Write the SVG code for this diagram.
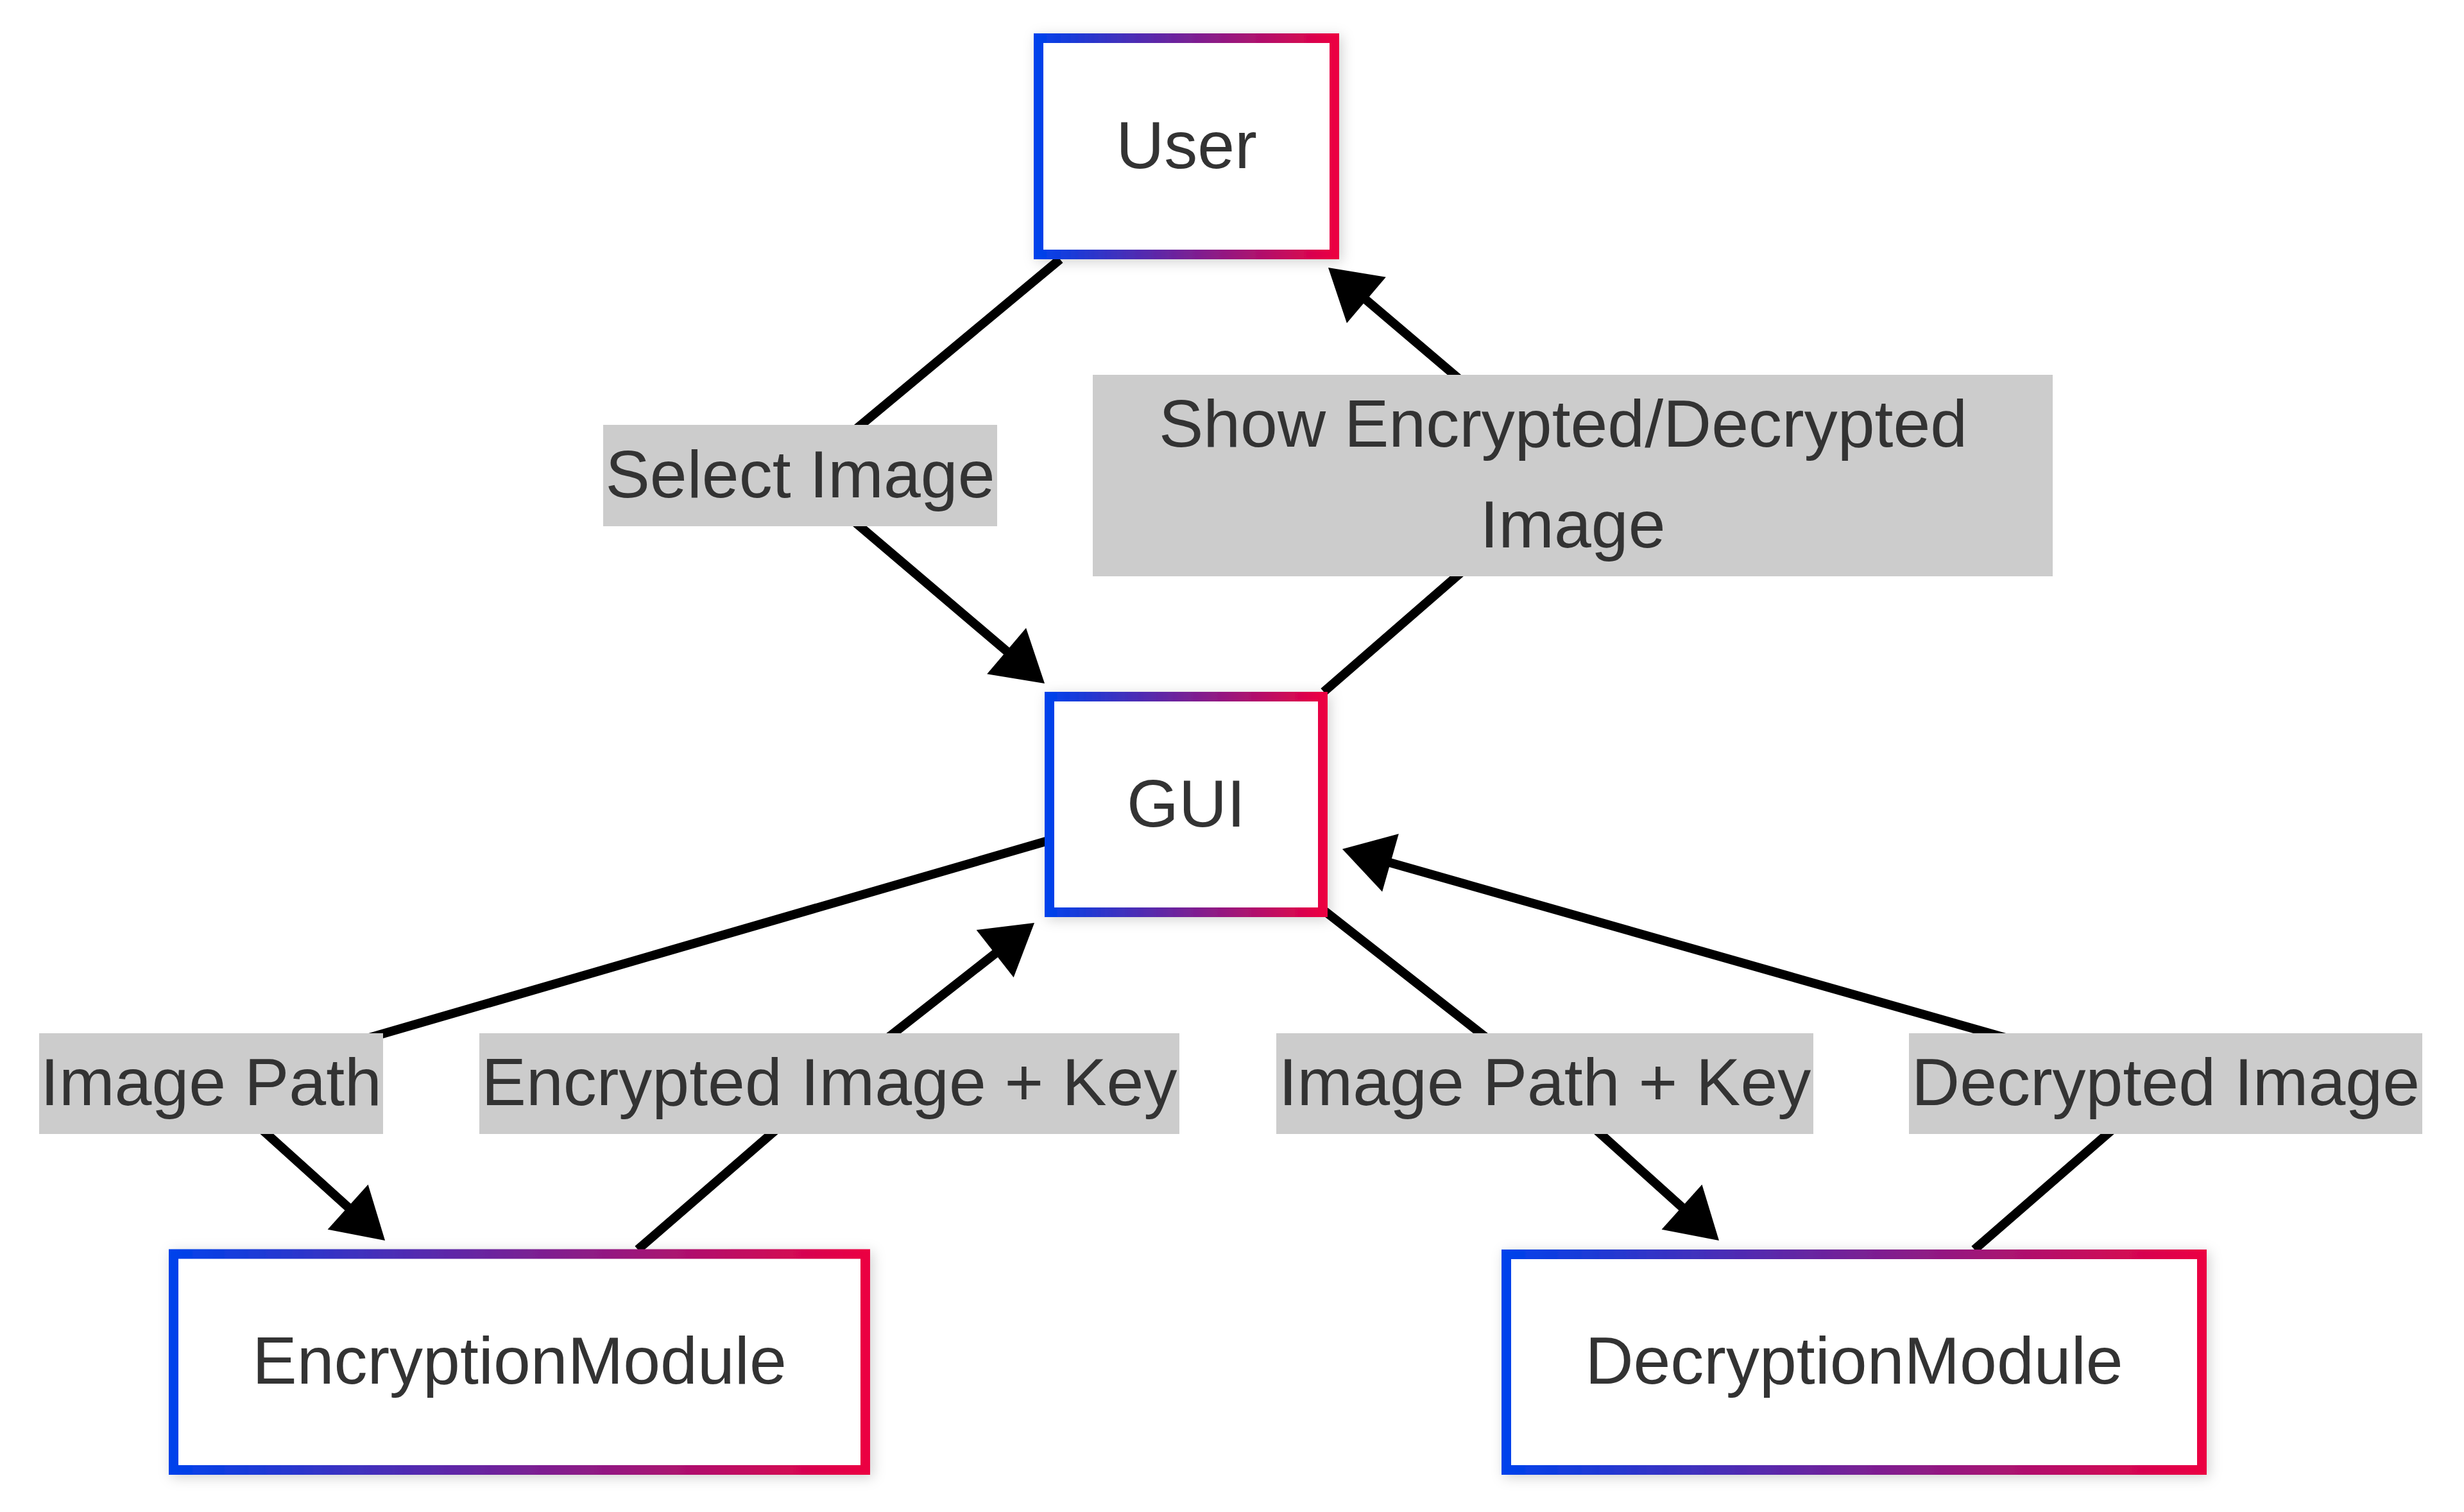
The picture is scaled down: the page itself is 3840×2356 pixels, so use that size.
<svg xmlns="http://www.w3.org/2000/svg" width="3840" height="2356" viewBox="0 0 3840 2356">
  <defs>
    <linearGradient id="borderGrad" x1="0" y1="0" x2="1" y2="0">
      <stop offset="0" stop-color="#0042EB"/>
      <stop offset="1" stop-color="#EB0042"/>
    </linearGradient>
    <filter id="shadow" x="-20%" y="-20%" width="140%" height="140%">
      <feDropShadow dx="4" dy="4" stdDeviation="10" flood-color="#000" flood-opacity="0.18"/>
    </filter>
    <marker id="arrow" markerUnits="userSpaceOnUse" markerWidth="78" markerHeight="94" refX="58" refY="47" orient="auto" overflow="visible">
      <path d="M0,0 L78,47 L0,94 z" fill="#000"/>
    </marker>
    <style>
      .node rect { fill: #ffffff; stroke: url(#borderGrad); stroke-width: 15; filter: url(#shadow); }
      .node text, .elabel text { font-family: "Liberation Sans", Arial, Helvetica, sans-serif; font-size: 104px; fill: #333333; text-anchor: middle; }
      .edge { fill: none; stroke: #000; stroke-width: 14; stroke-linejoin: round; marker-end: url(#arrow); }
      .elabel rect { fill: #cccccc; }
    </style>
  </defs>
  <rect x="0" y="0" width="3840" height="2356" fill="#ffffff"/>

  <g id="connectors">
    <path class="edge" d="M1652,404 L1247,741 L1612.8,1052"/>
    <path class="edge" d="M2063,1078 L2451,741 L2085.2,430"/>
    <path class="edge" d="M1630,1311 L329,1688.5 L585.2,1919.6"/>
    <path class="edge" d="M994,1947 L1292.5,1688.5 L1596.3,1450.3"/>
    <path class="edge" d="M2065,1420 L2407.5,1688.5 L2664.1,1919.6"/>
    <path class="edge" d="M3077,1947 L3375,1688 L2111.2,1328.5"/>
  </g>

  <g id="edge-labels">
    <g class="elabel" id="label-select-image">
      <rect x="940" y="662" width="614" height="158"/>
      <text x="1247" y="775">Select Image</text>
    </g>
    <g class="elabel" id="label-show">
      <rect x="1703" y="584" width="1496" height="314"/>
      <text x="2436" y="696">Show Encrypted/Decrypted</text>
      <text x="2451" y="853">Image</text>
    </g>
    <g class="elabel" id="label-image-path">
      <rect x="61" y="1610" width="536" height="157"/>
      <text x="329" y="1722">Image Path</text>
    </g>
    <g class="elabel" id="label-encrypted-key">
      <rect x="747" y="1610" width="1091" height="157"/>
      <text x="1292.5" y="1722">Encrypted Image + Key</text>
    </g>
    <g class="elabel" id="label-image-path-key">
      <rect x="1989" y="1610" width="837" height="157"/>
      <text x="2407.5" y="1722">Image Path + Key</text>
    </g>
    <g class="elabel" id="label-decrypted">
      <rect x="2975" y="1610" width="800" height="157"/>
      <text x="3375" y="1722">Decrypted Image</text>
    </g>
  </g>

  <g class="node" id="node-user">
    <rect x="1618.5" y="59.5" width="461" height="337"/>
    <text x="1849" y="262">User</text>
  </g>
  <g class="node" id="node-gui">
    <rect x="1635.5" y="1085.5" width="426" height="336"/>
    <text x="1848.5" y="1288">GUI</text>
  </g>
  <g class="node" id="node-encryption">
    <rect x="270.5" y="1954" width="1078" height="336.5"/>
    <text x="809.5" y="2156">EncryptionModule</text>
  </g>
  <g class="node" id="node-decryption">
    <rect x="2347.5" y="1954.5" width="1084" height="336"/>
    <text x="2889.5" y="2156">DecryptionModule</text>
  </g>
</svg>
